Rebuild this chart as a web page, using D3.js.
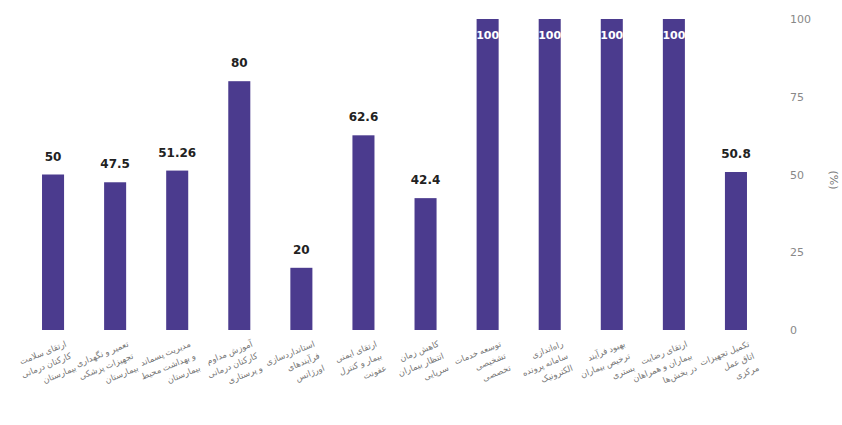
<!DOCTYPE html>
<html><head><meta charset="utf-8">
<script src="https://cdn.jsdelivr.net/npm/d3@7"></script>
<style>body{margin:0;background:#fff}svg{display:block}</style>
</head><body>
<script>
const categories = [
  ["ارتقای سلامت", "کارکنان درمانی", "بیمارستان"],
  ["تعمیر و نگهداری", "تجهیزات پزشکی", "بیمارستان"],
  ["مدیریت پسماند", "و بهداشت محیط", "بیمارستان"],
  ["آموزش مداوم", "کارکنان درمانی", "و پرستاری"],
  ["استانداردسازی", "فرآیندهای", "اورژانس"],
  ["ارتقای ایمنی", "بیمار و کنترل", "عفونت"],
  ["کاهش زمان", "انتظار بیماران", "سرپایی"],
  ["توسعه خدمات", "تشخیصی", "تخصصی"],
  ["راه‌اندازی", "سامانه پرونده", "الکترونیک"],
  ["بهبود فرآیند", "ترخیص بیماران", "بستری"],
  ["ارتقای رضایت", "بیماران و همراهان", "در بخش‌ها"],
  ["تکمیل تجهیزات", "اتاق عمل", "مرکزی"]
];
const values = [50, 47.5, 51.26, 80, 20, 62.6, 42.4, 100, 100, 100, 100, 50.8];
const yTicks = [0, 25, 50, 75, 100];
const yTitle = "(%)";

const W = 842, H = 425;
const svg = d3.select("body").append("svg").attr("width", W).attr("height", H);
const idx = d3.range(values.length);
const x = d3.scaleBand().domain(idx).range([22, 767]).paddingInner(0.645).paddingOuter(0.3225);
const y = d3.scaleLinear().domain([0, 100]).range([330, 19]);

svg.append("g").selectAll("rect").data(idx).join("rect")
  .attr("x", i => x(i)).attr("width", x.bandwidth())
  .attr("y", i => y(values[i])).attr("height", i => y(0) - y(values[i]))
  .attr("fill", "#4b3b8e");

svg.append("g").selectAll("text").data(idx).join("text")
  .attr("x", i => x(i) + x.bandwidth() / 2)
  .attr("y", i => values[i] >= 95 ? y(values[i]) + 20 : y(values[i]) - 14)
  .attr("text-anchor", "middle")
  .attr("font-family", "DejaVu Sans, sans-serif")
  .attr("font-weight", "bold").attr("font-size", i => values[i] >= 95 ? 11 : 12)
  .attr("fill", i => values[i] >= 95 ? "#fff" : "#222")
  .text(i => values[i]);

const ax = svg.append("g").attr("transform", "translate(786,0)")
  .call(d3.axisRight(y).tickValues(yTicks).tickSize(0).tickPadding(4));
ax.select(".domain").remove();
ax.selectAll("text").attr("font-family", "DejaVu Sans, sans-serif").attr("font-size", 11).attr("fill", "#888");

svg.append("text").attr("transform", "translate(830,180) rotate(90)")
  .attr("text-anchor", "middle").attr("font-family", "DejaVu Sans, sans-serif")
  .attr("font-size", 11).attr("fill", "#777").text(yTitle);

const lab = svg.append("g").selectAll("text").data(idx).join("text")
  .attr("transform", i => `translate(${x(i) + x.bandwidth() / 2 + 14},346) rotate(-22)`)
  .attr("text-anchor", "end")
  .attr("font-family", "Noto Sans, DejaVu Sans, sans-serif")
  .attr("font-size", 8.5).attr("fill", "#777");
lab.selectAll("tspan").data(i => categories[i]).join("tspan")
  .attr("x", 0).attr("dy", (d, j) => j === 0 ? 0 : 13).text(d => d);
</script>
</body></html>
